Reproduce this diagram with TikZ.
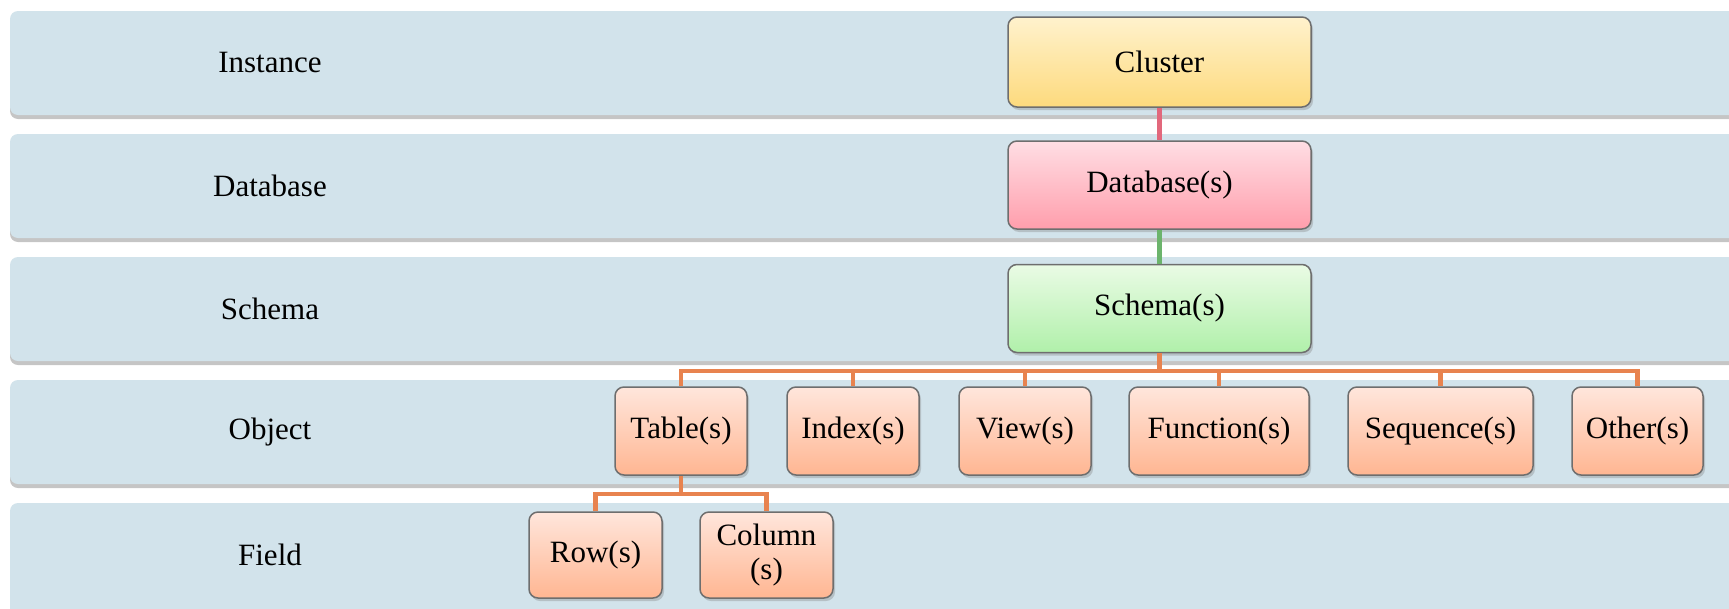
\documentclass[tikz,border=0pt]{standalone}
\usepackage{fontspec}
\setmainfont{Liberation Serif}
\usetikzlibrary{shadows,calc}
\definecolor{bandc}{RGB}{210,227,235}
\definecolor{bordc}{RGB}{110,110,110}
\definecolor{clTop}{RGB}{255,242,205}
\definecolor{clBot}{RGB}{253,218,125}
\definecolor{dbTop}{RGB}{255,222,228}
\definecolor{dbBot}{RGB}{255,158,172}
\definecolor{scTop}{RGB}{234,251,229}
\definecolor{scBot}{RGB}{176,240,170}
\definecolor{obTop}{RGB}{255,230,220}
\definecolor{obBot}{RGB}{255,182,146}
\definecolor{pinkln}{RGB}{226,104,124}
\definecolor{greenln}{RGB}{108,180,108}
\definecolor{orangeln}{RGB}{232,131,79}
\tikzset{
  band/.style={fill=bandc, rounded corners=8pt,
    drop shadow={shadow xshift=0pt, shadow yshift=-4pt, opacity=0.45, fill=gray}},
  lbl/.style={font=\fontsize{31}{34}\selectfont, inner sep=0pt},
  box/.style={draw=bordc, line width=1.5pt, rounded corners=9pt, inner sep=0pt,
    align=center, font=\fontsize{31}{34}\selectfont,
    drop shadow={shadow xshift=2pt, shadow yshift=-3pt, opacity=0.35, fill=gray}},
  clbox/.style={box, top color=clTop, bottom color=clBot},
  dbbox/.style={box, top color=dbTop, bottom color=dbBot},
  scbox/.style={box, top color=scTop, bottom color=scBot},
  obbox/.style={box, top color=obTop, bottom color=obBot},
  conn/.style={line width=4.5pt}
}
\begin{document}
\begin{tikzpicture}[x=1pt,y=-1pt]
\clip (0,0) rectangle (1729,608);
\fill[white] (0,0) rectangle (1729,608);
% bands
\path[band] (10,11) rectangle (1780,115);
\path[band] (10,134) rectangle (1780,238);
\path[band] (10,257) rectangle (1780,361);
\path[band] (10,380) rectangle (1780,484);
\path[band] (10,503) rectangle (1780,640);
% labels
\node[lbl] (l1) at (270,63) {Instance};
\node[lbl] (l2) at (270,186) {Database};
\node[lbl] (l3) at (270,309) {Schema};
\node[lbl] (l4) at (270,432) {Object};
\node[lbl] (l5) at (270,555) {Field};
% boxes
\node[clbox, minimum width=303pt, minimum height=90pt] (cl) at (1159.5,62) {Cluster};
\node[dbbox, minimum width=303pt, minimum height=88pt] (db) at (1159.5,185) {Database(s)};
\node[scbox, minimum width=303pt, minimum height=88pt] (sc) at (1159.5,308.5) {Schema(s)};
\node[obbox, minimum width=132pt, minimum height=88pt] (tb) at (681,431) {Table(s)};
\node[obbox, minimum width=132pt, minimum height=88pt] (ix) at (853,431) {Index(s)};
\node[obbox, minimum width=132pt, minimum height=88pt] (vw) at (1025,431) {View(s)};
\node[obbox, minimum width=180pt, minimum height=88pt] (fn) at (1219,431) {Function(s)};
\node[obbox, minimum width=185pt, minimum height=88pt] (sq) at (1440.5,431) {Sequence(s)};
\node[obbox, minimum width=131pt, minimum height=88pt] (ot) at (1637.5,431) {Other(s)};
\node[obbox, minimum width=133pt, minimum height=86pt] (rw) at (595.5,555) {Row(s)};
\node[obbox, minimum width=133pt, minimum height=86pt] (co) at (766.5,555) {Column\\(s)};
% connectors
\coordinate (bar) at (1159.5,371);
\coordinate (bar2) at (681,494);
\draw[conn, pinkln] (cl.south) -- (db.north);
\draw[conn, greenln] (db.south) -- (sc.north);
\draw[conn, orangeln] (sc.south) -- (bar);
\foreach \n in {tb,ix,vw,fn,sq,ot}{
  \draw[conn, orangeln] (bar) -| (\n.north);
}
\draw[conn, orangeln] (tb.south) -- (bar2);
\draw[conn, orangeln] (bar2) -| (rw.north);
\draw[conn, orangeln] (bar2) -| (co.north);
\end{tikzpicture}
\end{document}
